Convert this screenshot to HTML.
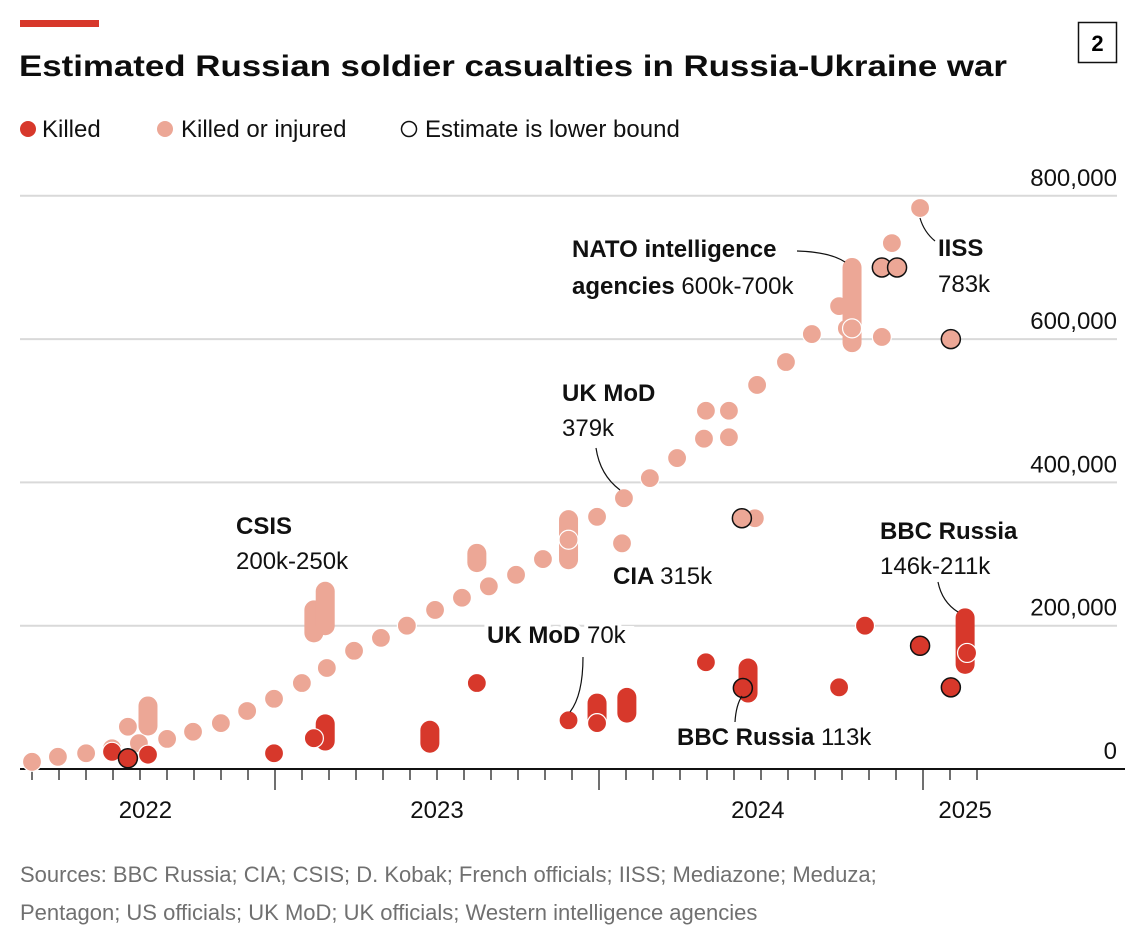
<!DOCTYPE html>
<html><head><meta charset="utf-8"><style>
html,body{margin:0;padding:0;background:#fff;}
svg{display:block;font-family:"Liberation Sans",sans-serif;}
</style></head><body>
<svg id="chart" width="1136" height="946" viewBox="0 0 1136 946" xmlns="http://www.w3.org/2000/svg">
<rect x="20" y="20" width="79" height="7" fill="#d7382b"/>
<text x="19" y="76" font-size="30" font-weight="bold" fill="#0d0d0d" textLength="988" lengthAdjust="spacingAndGlyphs">Estimated Russian soldier casualties in Russia-Ukraine war</text>
<rect x="1078.5" y="22.5" width="38" height="40" fill="none" stroke="#111" stroke-width="1.5"/>
<text x="1097.5" y="51" font-size="22" font-weight="bold" text-anchor="middle">2</text>
<g font-size="24" fill="#111">
 <circle cx="28" cy="129" r="8" fill="#d7382b"/>
 <text x="42" y="137">Killed</text>
 <circle cx="165" cy="129" r="8" fill="#eca796"/>
 <text x="181" y="137">Killed or injured</text>
 <circle cx="409" cy="129" r="7.5" fill="#fff" stroke="#111" stroke-width="1.5"/>
 <text x="425" y="137">Estimate is lower bound</text>
</g>
<g id="grid"></g>
<g id="axis"></g>
<g id="marks"></g>
<g id="annot" font-size="24" fill="#111"></g>
<text x="20" y="882" font-size="22" fill="#707070">Sources: BBC Russia; CIA; CSIS; D. Kobak; French officials; IISS; Mediazone; Meduza;</text>
<text x="20" y="920" font-size="22" fill="#707070">Pentagon; US officials; UK MoD; UK officials; Western intelligence agencies</text>
</svg>
<script>
// ---- data (values in thousands, dates as decimal years) ----
const yTicks = [0, 200, 400, 600, 800];
const yTickLabels = ["0", "200,000", "400,000", "600,000", "800,000"];
const yearLabels = ["2022", "2023", "2024", "2025"];
const yearLabelPos = [2022.6, 2023.5, 2024.49, 2025.13];
const yearBoundaries = [2023, 2024, 2025];

// Killed or injured, single estimates
const kiDates = [2022.25,2022.33,2022.417,2022.497,2022.546,2022.58,2022.667,2022.747,2022.833,2022.914,2022.997,2023.083,2023.16,2023.244,2023.327,2023.407,2023.494,2023.577,2023.66,2023.744,2023.827,2023.994,2024.071,2024.077,2024.157,2024.241,2024.324,2024.33,2024.401,2024.401,2024.481,2024.488,2024.577,2024.657,2024.741,2024.765,2024.873,2024.904,2024.991];
const kiValues = [10,17,22,29,59,36,42,52,64,81,98,120,141,165,183,200,222,239,255,271,293,352,315,378,406,434,461,500,463,500,350,536,568,607,646,615,603,734,783];
// Killed or injured, lower-bound estimates
const kiLbDates = [2024.441,2024.873,2024.92,2025.086];
const kiLbValues = [350,700,700,600];
// Killed or injured, ranges
const kiRangeDates = [2022.608,2023.12,2023.155,2023.623,2023.906,2024.781];
const kiRangeLow = [60,190,200,288,292,595];
const kiRangeHigh = [88,222,248,301,348,700];
const kiRangeMid = [null,null,null,null,320,615];

// Killed, single estimates
const kDates = [2022.497,2022.608,2022.997,2023.12,2023.623,2023.906,2023.994,2024.33,2024.741,2024.821,2025.136];
const kValues = [24,20,22,43,120,68,64,149,114,200,162];
// Killed, lower bound
const kLbDates = [2022.546,2024.444,2024.991,2025.086];
const kLbValues = [15,113,172,114];
// Killed, ranges
const kRangeDates = [2023.155,2023.478,2023.994,2024.086,2024.46,2025.13];
const kRangeLow = [39,36,68,78,106,146];
const kRangeHigh = [63,54,92,100,141,211];

// ---- scales ----
const x = d => 275 + (d - 2023) * 324;
const y = v => 769 - v * 143.3 / 200;
const NS = "http://www.w3.org/2000/svg";
function mk(tag, parent, attrs){ const e=document.createElementNS(NS,tag); for(const k in attrs) e.setAttribute(k,attrs[k]); parent.appendChild(e); return e; }
const DARK="#d7382b", LIGHT="#eca796", R=9.5;

const grid=document.getElementById('grid');
yTicks.forEach((t,i)=>{
  if(t>0){
    const l=mk('line',grid,{x1:20,x2:1117,y1:y(t),y2:y(t),stroke:'#d9d9d9','stroke-width':2});
    
    
  }
  const tx=mk('text',grid,{x:1117,y:y(t)-10,'text-anchor':'end','font-size':24,fill:'#111'});
  tx.textContent=yTickLabels[i];
  
  
});

const axis=document.getElementById('axis');
const al=mk('line',axis,{x1:20,x2:1125,y1:769,y2:769,stroke:'#111','stroke-width':2});


for(let m=0;m<=35;m++){
  const d=2022.25+m/12;
  const major=yearBoundaries.some(b=>Math.abs(b-d)<0.01);
  const tk=mk('line',axis,{x1:x(d),x2:x(d),y1:769,y2:major?790:780,stroke:'#111','stroke-width':1.2});
  
  
}
yearLabels.forEach((s,i)=>{
  const t=mk('text',axis,{x:x(yearLabelPos[i]),y:818,'text-anchor':'middle','font-size':24,fill:'#111'});
  t.textContent=s;
  
  
});

const marks=document.getElementById('marks');
function pill(d,lo,hi,col,name){
  const p=mk('line',marks,{x1:x(d),x2:x(d),y1:y(lo),y2:y(hi),stroke:col,'stroke-width':2*R,'stroke-linecap':'round'});
  
  
}
function dot(d,v,col,lb,name){
  const c=mk('circle',marks,{cx:x(d),cy:y(v),r:R,fill:col,stroke:lb?'#111':'#fff','stroke-width':lb?1.5:1.2});
  
  
}
kiDates.forEach((d,i)=>dot(d,kiValues[i],LIGHT,false,'killed-or-injured-point'));
kiRangeDates.forEach((d,i)=>{ pill(d,kiRangeLow[i],kiRangeHigh[i],LIGHT,'killed-or-injured-range'); if(kiRangeMid[i]!==null) dot(d,kiRangeMid[i],LIGHT,false,'killed-or-injured-point'); });
kiLbDates.forEach((d,i)=>dot(d,kiLbValues[i],LIGHT,true,'killed-or-injured-lower-bound-point'));
kRangeDates.forEach((d,i)=>pill(d,kRangeLow[i],kRangeHigh[i],DARK,'killed-range'));
kDates.forEach((d,i)=>dot(d,kValues[i],DARK,false,'killed-point'));
kLbDates.forEach((d,i)=>dot(d,kLbValues[i],DARK,true,'killed-lower-bound-point'));
</script>
<script>
const an=document.getElementById('annot');
function lab(xp,yp,bold,reg,name,bg){
  const t=document.createElementNS("http://www.w3.org/2000/svg",'text');
  t.setAttribute('x',xp); t.setAttribute('y',yp);
  
  
  if(bg){ t.setAttribute('stroke','#fff'); t.setAttribute('stroke-width','8'); t.setAttribute('paint-order','stroke'); }
  if(bold){ const b=document.createElementNS("http://www.w3.org/2000/svg",'tspan'); b.setAttribute('font-weight','bold'); b.textContent=bold+(reg?' ':''); t.appendChild(b); }
  if(reg){ const r=document.createElementNS("http://www.w3.org/2000/svg",'tspan'); r.textContent=reg; t.appendChild(r); }
  an.appendChild(t);
}
function lead(d,name){
  const p=document.createElementNS("http://www.w3.org/2000/svg",'path');
  p.setAttribute('d',d); p.setAttribute('fill','none'); p.setAttribute('stroke','#111'); p.setAttribute('stroke-width','1.2');
  
  
  an.appendChild(p);
}
lab(236,534,'CSIS','', 'csis-label-title');
lab(236,569,'','200k-250k','csis-label-value');
lab(562,401,'UK MoD','','ukmod-injured-label-title');
lab(562,436,'','379k','ukmod-injured-label-value');
lead('M596 448 Q600 475 620 490','ukmod-injured-leader');
lab(613,584,'CIA','315k','cia-label');
lab(487,643,'UK MoD','70k','ukmod-killed-label',true);
lead('M583 657 Q583 695 570 712','ukmod-killed-leader');
lab(677,745,'BBC Russia','113k','bbc-113k-label');
lead('M735 722 Q736 705 742 696','bbc-113k-leader');
lab(880,539,'BBC Russia','','bbc-range-label-title');
lab(880,574,'','146k-211k','bbc-range-label-value');
lead('M938 582 Q942 602 958 612','bbc-range-leader');
lab(572,257,'NATO intelligence','','nato-label-line-1');
lab(572,294,'agencies','600k-700k','nato-label-line-2');
lead('M797 251 Q830 252 845 262','nato-leader');
lab(938,256,'IISS','','iiss-label-title');
lab(938,292,'','783k','iiss-label-value');
lead('M920 218 Q924 232 935 241','iiss-leader');
</script>
</body></html>
